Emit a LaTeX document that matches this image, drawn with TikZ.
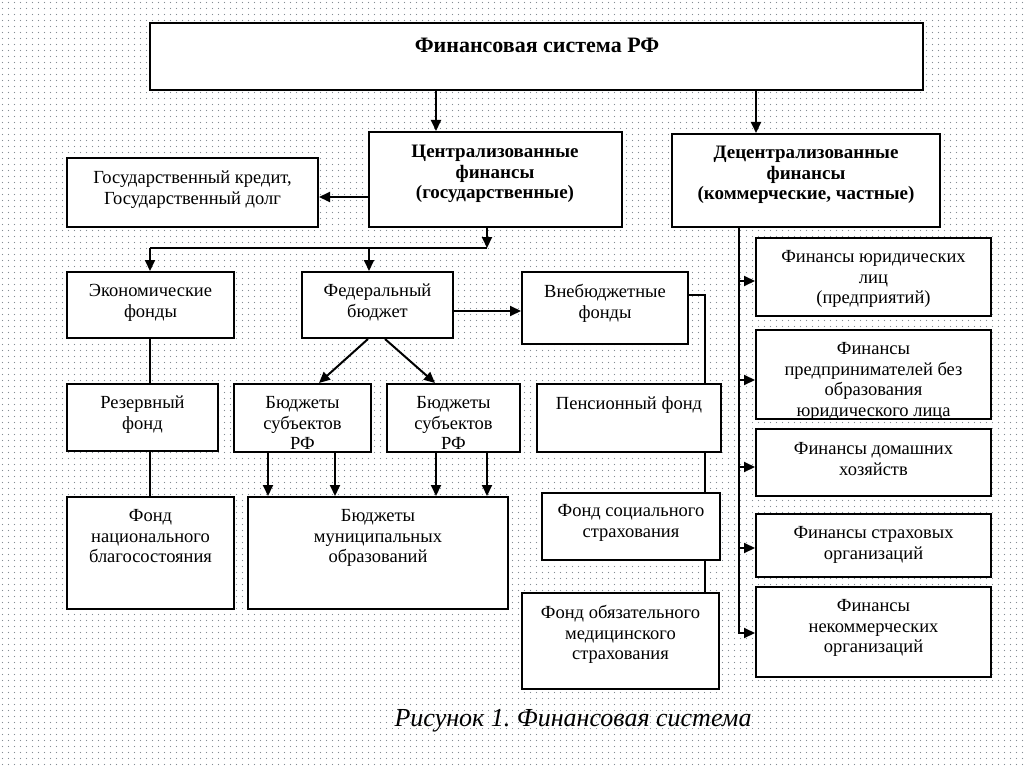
\documentclass[tikz,border=0pt]{standalone}
\usepackage{fontspec}
\setmainfont{Liberation Serif}
\usetikzlibrary{arrows.meta,fit,patterns.meta}
\tikzdeclarepattern{
  name=bgdots,
  type=uncolored,
  bottom left={(0pt,0pt)},
  top right={(5.5pt,5.5pt)},
  tile size={(5.5pt,5.5pt)},
  code={\pgfpathcircle{\pgfpoint{2.75pt}{2.75pt}}{0.65pt}\pgfusepath{fill}}
}
\definecolor{dotc}{rgb}{0.52,0.55,0.58}
\tikzset{
  box/.style={draw=black, line width=2pt, fill=white, inner sep=0pt},
  txt/.style={align=center, inner sep=0pt, anchor=north, font=\fontsize{18.5}{20.7}\selectfont},
  btxt/.style={txt, font=\fontsize{19}{20.5}\selectfont\bfseries},
  conn/.style={line width=2pt, draw=black},
  arr/.style={conn, -{Triangle[length=11pt,width=10pt]}},
}
\begin{document}
\frenchspacing
\begin{tikzpicture}[x=1pt,y=-1pt]
\useasboundingbox (0,0) rectangle (1024,767);
\fill[white] (0,0) rectangle (1024,767);
\fill[pattern=bgdots, pattern color=dotc] (0,0) rectangle (1024,767);

% boxes
\node[box, fit={(150,23) (923,90)}] (top) {};
\node[box, fit={(369,132) (622,227)}] (cent) {};
\node[box, fit={(672,134) (940,227)}] (dec) {};
\node[box, fit={(67,158) (318,227)}] (kred) {};
\node[box, fit={(67,272) (234,338)}] (econ) {};
\node[box, fit={(302,272) (453,338)}] (fed) {};
\node[box, fit={(522,272) (688,344)}] (vneb) {};
\node[box, fit={(67,384) (218,451)}] (res) {};
\node[box, fit={(234,384) (371,452)}] (subA) {};
\node[box, fit={(387,384) (520,452)}] (subB) {};
\node[box, fit={(537,384) (721,452)}] (pens) {};
\node[box, fit={(67,497) (234,609)}] (fnb) {};
\node[box, fit={(248,497) (508,609)}] (mun) {};
\node[box, fit={(542,493) (720,560)}] (soc) {};
\node[box, fit={(522,593) (719,689)}] (oms) {};
\node[box, fit={(756,238) (991,316)}] (jur) {};
\node[box, fit={(756,330) (991,419)}] (ent) {};
\node[box, fit={(756,429) (991,496)}] (hh) {};
\node[box, fit={(756,514) (991,577)}] (ins) {};
\node[box, fit={(756,587) (991,677)}] (nko) {};

% texts
\node[btxt, font=\fontsize{22}{24}\selectfont\bfseries] (t-top) at (537,38) {Финансовая система РФ};
\node[btxt] (t-cent) at (495,145) {Централизованные\\финансы\\(государственные)};
\node[btxt] (t-dec) at (806,146) {Децентрализованные\\финансы\\(коммерческие, частные)};
\node[txt] (t-kred) at (192.5,171) {Государственный кредит,\\Государственный долг};
\node[txt] (t-econ) at (150.5,284) {Экономические\\фонды};
\node[txt] (t-fed) at (377.5,284) {Федеральный\\бюджет};
\node[txt] (t-vneb) at (605,284) {Внебюджетные\\фонды};
\node[txt] (t-res) at (142.5,396) {Резервный\\фонд};
\node[txt] (t-subA) at (302.5,396) {Бюджеты\\субъектов\\РФ};
\node[txt] (t-subB) at (453.5,396) {Бюджеты\\субъектов\\РФ};
\node[txt] (t-pens) at (629,396) {Пенсионный фонд};
\node[txt] (t-fnb) at (150.5,509) {Фонд\\национального\\благосостояния};
\node[txt] (t-mun) at (378,509) {Бюджеты\\муниципальных\\образований};
\node[txt] (t-soc) at (631,504) {Фонд социального\\страхования};
\node[txt] (t-oms) at (620.5,605) {Фонд обязательного\\медицинского\\страхования};
\node[txt] (t-jur) at (873.5,250) {Финансы юридических\\лиц\\(предприятий)};
\node[txt] (t-ent) at (873.5,342) {Финансы\\предпринимателей без\\образования\\юридического лица};
\node[txt] (t-hh) at (873.5,442) {Финансы домашних\\хозяйств};
\node[txt] (t-ins) at (873.5,526) {Финансы страховых\\организаций};
\node[txt] (t-nko) at (873.5,599) {Финансы\\некоммерческих\\организаций};
\node[anchor=base, inner sep=0pt, font=\fontsize{26}{28}\selectfont\itshape] (cap) at (573,726) {Рисунок 1. Финансовая система};

% coordinates for connectors
\coordinate (xa) at (436,0);
\coordinate (xb) at (756,0);
\coordinate (yk) at (0,197);
\coordinate (bus1) at (487,248);
\coordinate (bus0) at (150,248);
\coordinate (xfed) at (369,248);
\coordinate (yfv) at (0,311);
\coordinate (xl) at (150,0);
\coordinate (fa0) at (368,0);
\coordinate (fa1) at (319,0);
\coordinate (fb0) at (385,0);
\coordinate (fb1) at (435,0);
\coordinate (m1) at (268,0);
\coordinate (m2) at (335,0);
\coordinate (m3) at (436,0);
\coordinate (m4) at (487,0);
\coordinate (yv) at (0,295);
\coordinate (xv) at (705,0);
\coordinate (xr) at (739,0);
\coordinate (y1) at (0,281);
\coordinate (y2) at (0,380);
\coordinate (y3) at (0,467);
\coordinate (y4) at (0,548);
\coordinate (y5) at (0,633);

% connectors
\draw[arr] (xa |- top.south) -- (xa |- cent.north);
\draw[arr] (xb |- top.south) -- (xb |- dec.north);
\draw[arr] (cent.west |- yk) -- (kred.east |- yk);
\draw[arr] (bus1 |- cent.south) -- (bus1);
\draw[conn] (bus1) -- (bus0);
\draw[arr] (bus0) -- (bus0 |- econ.north);
\draw[arr] (xfed) -- (xfed |- fed.north);
\draw[arr] (fed.east |- yfv) -- (vneb.west |- yfv);
\draw[conn] (xl |- econ.south) -- (xl |- res.north);
\draw[conn] (xl |- res.south) -- (xl |- fnb.north);
\draw[arr] (fa0 |- fed.south) -- (fa1 |- subA.north);
\draw[arr] (fb0 |- fed.south) -- (fb1 |- subB.north);
\draw[arr] (m1 |- subA.south) -- (m1 |- mun.north);
\draw[arr] (m2 |- subA.south) -- (m2 |- mun.north);
\draw[arr] (m3 |- subB.south) -- (m3 |- mun.north);
\draw[arr] (m4 |- subB.south) -- (m4 |- mun.north);
\draw[conn] (vneb.east |- yv) -| (xv |- pens.north);
\draw[conn] (xv |- pens.south) -- (xv |- soc.north);
\draw[conn] (xv |- soc.south) -- (xv |- oms.north);
\draw[arr] (xr |- dec.south) |- (nko.west |- y5);
\draw[arr] (xr |- y1) -- (jur.west |- y1);
\draw[arr] (xr |- y2) -- (ent.west |- y2);
\draw[arr] (xr |- y3) -- (hh.west |- y3);
\draw[arr] (xr |- y4) -- (ins.west |- y4);
\end{tikzpicture}
\end{document}
